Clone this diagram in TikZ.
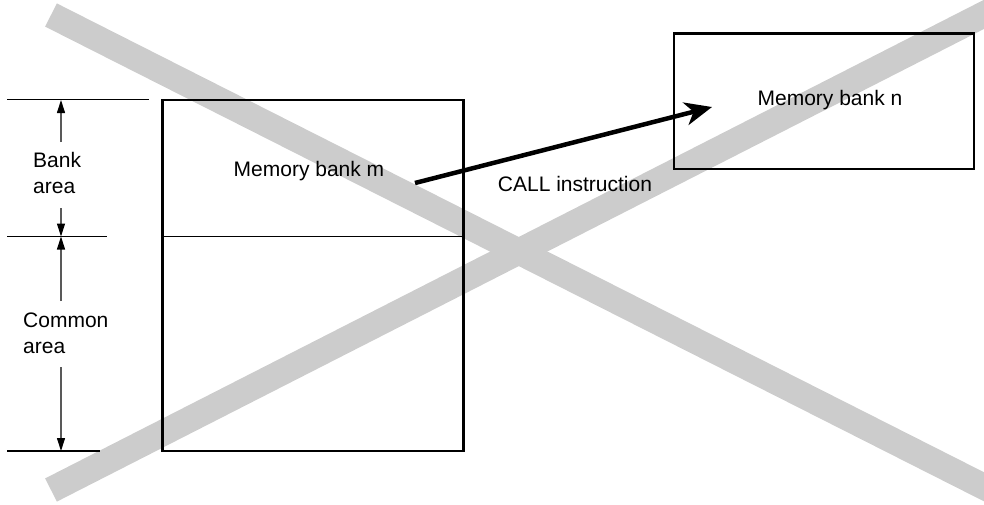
\documentclass[tikz,border=0pt]{standalone}
\usepackage{fontspec}
\setmainfont{Liberation Sans}
\usetikzlibrary{arrows.meta}
\definecolor{bandgray}{RGB}{204,204,204}
\begin{document}
\begin{tikzpicture}[x=1pt,y=-1pt,
  lbl/.style={font=\fontsize{21}{26}\selectfont, inner sep=0pt},
  box/.style={draw, line width=2.5pt, inner sep=0pt},
  band/.style={line width=26pt, draw=bandgray, line cap=butt},
  ext/.style={line width=1.1pt},
  dim/.style={line width=1.1pt, draw=black!65, -{Triangle[length=13pt,width=8pt,color=black]}},
  call/.style={line width=4.5pt, -{Stealth[length=27pt,width=23pt,inset=8pt]}}]
\useasboundingbox (0,0) rectangle (984,504);
% crossing bands
\begin{scope}
  \clip (0,0) rectangle (984,504);
  \coordinate (b1s) at (51,15);
  \coordinate (b1e) at (1020,505);
  \coordinate (b2s) at (51,490);
  \coordinate (b2e) at (1020,-4);
  \draw[band] (b1s) -- (b1e);
  \draw[band] (b2s) -- (b2e);
\end{scope}
% boxes
\node[box, minimum width=301pt, minimum height=351pt] (boxm) at (313,275.5) {};
\node[box, minimum width=300pt, minimum height=135.5pt] (boxn) at (824,101.25) {};
\coordinate (divL) at (162,236.5);
\coordinate (divR) at (463,236.5);
\draw[ext] (divL) -- (divR);
\node[lbl] (labm) at (309,171) {Memory bank m};
\node[lbl] (labn) at (830,100) {Memory bank n};
% call arrow
\coordinate (callstart) at (415,183);
\coordinate (callend) at (712,107);
\draw[call] (callstart) -- (callend);
\node[lbl] (calllab) at (575,184) {CALL instruction};
% extension lines
\coordinate (topL) at (7,99.5);
\coordinate (topR) at (149,99.5);
\coordinate (midL) at (7,236.5);
\coordinate (midR) at (107,236.5);
\coordinate (botL) at (7,451);
\coordinate (botR) at (100,451);
\draw[ext] (topL) -- (topR);
\draw[ext] (midL) -- (midR);
\draw[ext] (botL) -- (botR);
% dimension labels
\node[lbl, anchor=west, align=left] (bankarea) at (33,173.4) {Bank\\area};
\node[lbl, anchor=west, align=left] (commonarea) at (23,333.4) {Common\\area};
% dimension arrows
\coordinate (d1s) at (61,142);
\coordinate (d1e) at (61,100);
\coordinate (d2s) at (61,208);
\coordinate (d2e) at (61,236.5);
\coordinate (d3s) at (61,301);
\coordinate (d3e) at (61,236.5);
\coordinate (d4s) at (61,367);
\coordinate (d4e) at (61,451);
\draw[dim] (d1s) -- (d1e);
\draw[dim] (d2s) -- (d2e);
\draw[dim] (d3s) -- (d3e);
\draw[dim] (d4s) -- (d4e);
\end{tikzpicture}
\end{document}
